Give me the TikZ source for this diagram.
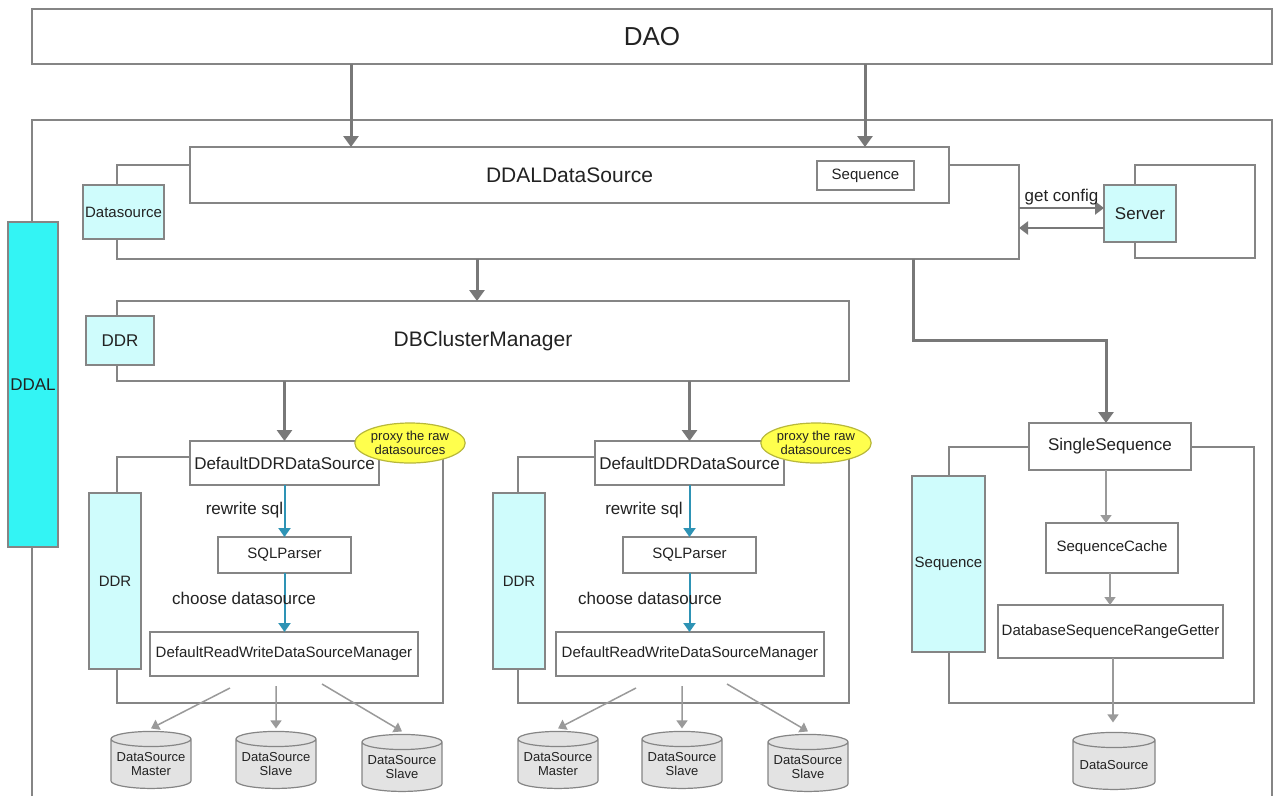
\documentclass[tikz,border=0pt]{standalone}
\usepackage{fontspec}
\setmainfont{Liberation Sans}
\usepackage{tikz}
\usetikzlibrary{shapes.geometric,arrows.meta}

\definecolor{linegray}{HTML}{858585}
\definecolor{arrowgray}{HTML}{787878}
\definecolor{thingray}{HTML}{9A9A9A}
\definecolor{lightcyan}{HTML}{CFFCFC}
\definecolor{brightcyan}{HTML}{33F4F4}
\definecolor{notefill}{HTML}{FFFF4D}
\definecolor{notedraw}{HTML}{B8B83A}
\definecolor{sqlblue}{HTML}{2E93B5}
\definecolor{cylgray}{HTML}{E3E3E3}
\definecolor{ink}{HTML}{222222}

\tikzset{
  fdao/.style={font=\fontsize{26}{30}\selectfont},
  fbig/.style={font=\fontsize{21}{24}\selectfont},
  fmid/.style={font=\fontsize{17}{20}\selectfont},
  fsmall/.style={font=\fontsize{15}{18}\selectfont},
  ftiny/.style={font=\fontsize{13}{14.5}\selectfont},
  box/.style={draw=linegray, line width=1.5pt, fill=white, text=ink},
  frame/.style={draw=linegray, line width=1.5pt},
  softbox/.style={box, fill=lightcyan},
  hardbox/.style={box, fill=brightcyan},
  note/.style={ellipse, draw=notedraw, line width=1.2pt, fill=notefill, text=ink, align=center, ftiny},
  db/.style={cylinder, shape border rotate=90, aspect=0.22, draw=linegray, line width=1.2pt,
    fill=cylgray, text=ink, align=center, ftiny, minimum width=80, minimum height=57},
  bigarrow/.style={arrowgray, line width=3pt, -{Triangle[width=15pt,length=11pt]}},
  midarrow/.style={arrowgray, line width=2.5pt, -{Triangle[width=13pt,length=9pt]}},
  thinarrow/.style={thingray, line width=1.5pt, -{Triangle[width=11pt,length=8pt]}},
  bluearrow/.style={sqlblue, line width=2pt, -{Triangle[width=12pt,length=9pt]}},
}

\begin{document}
\begin{tikzpicture}[x=1pt, y=-1pt, inner sep=0pt, outer sep=0pt]
\useasboundingbox (0,0) rectangle (1280,796);
\fill[white] (0,0) rectangle (1280,796);

%nodes
\node (dao) [box, fdao, minimum width=1240, minimum height=55] at (652,36.5) {DAO};
\draw[frame] (32,796) |- (1272,120) -- (1272,796);

\node (dsframe) [frame, minimum width=902, minimum height=94] at (568,212) {};
\node (ddalds) [box, fbig, minimum width=759, minimum height=56] at (569.5,175) {DDALDataSource};
\node (seqsmall) [box, fsmall, minimum width=97, minimum height=29] at (865.5,175.5) {Sequence};
\node (dsource) [softbox, fsmall, minimum width=81, minimum height=54] at (123.5,212) {Datasource};

\node (srvframe) [frame, minimum width=120, minimum height=93] at (1195,211.5) {};
\node (server) [softbox, fmid, minimum width=72, minimum height=57] at (1140,213.5) {Server};

\node (dbcm) [box, fbig, minimum width=732, minimum height=80] at (483,341) {DBClusterManager};
\node (ddrtop) [softbox, fmid, minimum width=68, minimum height=49] at (120,340.5) {DDR};

\node (ddal) [hardbox, fmid, minimum width=50, minimum height=325] at (33,384.5) {DDAL};

% left DDR
\node (ddrframeA) [frame, minimum width=326, minimum height=246] at (280,580) {};
\node (ddrdsA) [box, fmid, minimum width=189, minimum height=44] at (284.5,463) {DefaultDDRDataSource};
\node (proxyA) [note, minimum width=104, minimum height=40] at (410,443) {proxy the raw\\datasources};
\node (ddrA) [softbox, fsmall, minimum width=52, minimum height=176] at (115,581) {DDR};
\node (sqlA) [box, fsmall, minimum width=133, minimum height=36] at (284.5,555) {SQLParser};
\node (rwA) [box, fsmall, minimum width=268, minimum height=44] at (284,654) {DefaultReadWriteDataSourceManager};
\node (masterA) [db] at (151,764) {DataSource\\Master};
\node (slaveA) [db] at (276,764) {DataSource\\Slave};
\node (slaveAA) [db] at (402,767) {DataSource\\Slave};

% right DDR
\node (ddrframeB) [frame, minimum width=331, minimum height=246] at (683.5,580) {};
\node (ddrdsB) [box, fmid, minimum width=189, minimum height=44] at (689.5,463) {DefaultDDRDataSource};
\node (proxyB) [note, minimum width=104, minimum height=40] at (816,443) {proxy the raw\\datasources};
\node (ddrB) [softbox, fsmall, minimum width=52, minimum height=176] at (519,581) {DDR};
\node (sqlB) [box, fsmall, minimum width=133, minimum height=36] at (689.5,555) {SQLParser};
\node (rwB) [box, fsmall, minimum width=268, minimum height=44] at (690,654) {DefaultReadWriteDataSourceManager};
\node (masterB) [db] at (558,764) {DataSource\\Master};
\node (slaveB) [db] at (682,764) {DataSource\\Slave};
\node (slaveBB) [db] at (808,767) {DataSource\\Slave};

% sequence
\node (seqframe) [frame, minimum width=305, minimum height=256] at (1101.5,575) {};
\node (single) [box, fmid, minimum width=162, minimum height=47] at (1110,446.5) {SingleSequence};
\node (seqbox) [softbox, fsmall, minimum width=73, minimum height=176] at (948.5,564) {Sequence};
\node (cache) [box, fsmall, minimum width=132, minimum height=50] at (1112,548) {SequenceCache};
\node (getter) [box, fsmall, minimum width=225, minimum height=53] at (1110.5,631.5) {DatabaseSequenceRangeGetter};
\node (dsR) [db, minimum width=82] at (1114,765) {DataSource};

\coordinate (xa) at (351,0);
\coordinate (xb) at (865,0);
\coordinate (xc) at (477,0);
\coordinate (xd) at (913,0);
\coordinate (oA1) at (230,688);
\coordinate (oA2) at (276,686);
\coordinate (oA3) at (322,684);
\coordinate (oB1) at (636,688);
\coordinate (oB2) at (682,686);
\coordinate (oB3) at (727,684);

%links
\draw[bigarrow] (dao.south -| xa) -- (ddalds.north -| xa);
\draw[bigarrow] (dao.south -| xb) -- (ddalds.north -| xb);
\draw[bigarrow] (dsframe.south -| xc) -- (dbcm.north -| xc);
\draw[bigarrow] (dsframe.south -| xd) -- ++(0,81) -| ([xshift=-4pt]single.north);
\draw[midarrow] ([yshift=4pt]dsframe.east) -- node[above=3pt, fmid, text=ink] {get config} ([yshift=5.5pt]server.west);
\draw[midarrow] ([yshift=-14.5pt]server.west) -- ([yshift=-16pt]dsframe.east);

\draw[bigarrow] (dbcm.south -| ddrdsA.north) -- (ddrdsA.north);
\draw[bigarrow] (dbcm.south -| ddrdsB.north) -- (ddrdsB.north);

\draw[bluearrow] (ddrdsA.south) -- (sqlA.north);
\draw[bluearrow] (sqlA.south) -- (sqlA.south |- rwA.north);
\node (rewriteA) [fmid, text=ink] at (244.5,510) {rewrite sql};
\node (chooseA) [fmid, text=ink] at (244,598) {choose datasource};
\draw[bluearrow] (ddrdsB.south) -- (sqlB.north);
\draw[bluearrow] (sqlB.south) -- (sqlB.south |- rwB.north);
\node (rewriteB) [fmid, text=ink] at (644,510) {rewrite sql};
\node (chooseB) [fmid, text=ink] at (650,598) {choose datasource};

\draw[thinarrow] (oA1) -- ([yshift=3pt]masterA.north);
\draw[thinarrow] (oA2) -- ([yshift=3pt]slaveA.north);
\draw[thinarrow] (oA3) -- ([yshift=3pt]slaveAA.north);
\draw[thinarrow] (oB1) -- ([yshift=3pt]masterB.north);
\draw[thinarrow] (oB2) -- ([yshift=3pt]slaveB.north);
\draw[thinarrow] (oB3) -- ([yshift=3pt]slaveBB.north);

\draw[thinarrow] ([xshift=-4pt]single.south) -- ([xshift=-4pt]single.south |- cache.north);
\draw[thinarrow] ([xshift=-2pt]cache.south) -- ([xshift=-2pt]cache.south |- getter.north);
\draw[thinarrow] ([xshift=2.5pt]getter.south) -- ([xshift=2.5pt,yshift=10pt]getter.south |- dsR.north);
\end{tikzpicture}
\end{document}
